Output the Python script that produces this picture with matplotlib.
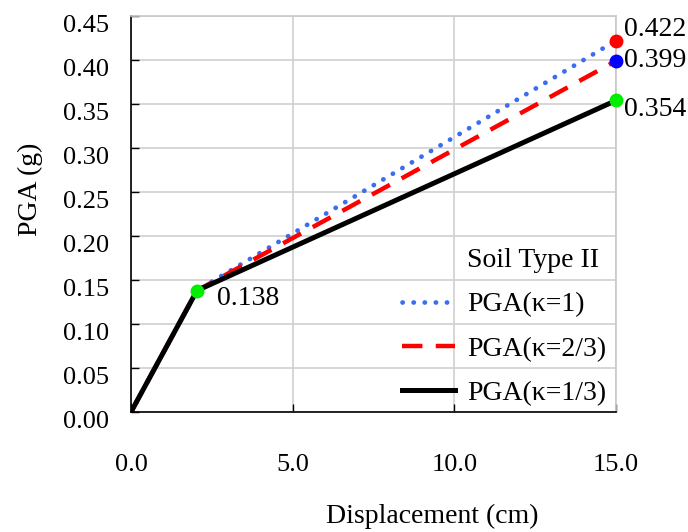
import matplotlib
matplotlib.use("Agg")
import matplotlib.pyplot as plt
import matplotlib.transforms as mtransforms
from matplotlib.lines import Line2D

plt.rcParams['font.family'] = ['Liberation Serif', 'DejaVu Serif']

# Data
displacement = [0.0, 2.04, 15.0]
pga_k1 = [0.0, 0.138, 0.422]
pga_k23 = [0.0, 0.138, 0.399]
pga_k13 = [0.0, 0.138, 0.354]
series_labels = ["PGA(κ=1)", "PGA(κ=2/3)", "PGA(κ=1/3)"]
legend_title = "Soil Type II"
xticks = [0.0, 5.0, 10.0, 15.0]
yticks = [0.00, 0.05, 0.10, 0.15, 0.20, 0.25, 0.30, 0.35, 0.40, 0.45]

W, H = 688, 532
fig = plt.figure(figsize=(W/100, H/100), dpi=100)
ax = fig.add_axes([131/W, 1 - 412/H, (616-131)/W, (412-16)/H])

blue = '#3c6cf0'
l1, = ax.plot(displacement, pga_k1, linestyle=(0, (0.05, 2.3)), color=blue, lw=3.4, zorder=3,
              dash_capstyle='round', label=series_labels[0])
l2, = ax.plot(displacement, pga_k23, linestyle=(0, (4.6, 3.0)), color='#ff0000', lw=3.2, zorder=4,
              dash_capstyle='butt', label=series_labels[1])
l3, = ax.plot(displacement, pga_k13, linestyle='-', color='black', lw=3.6, zorder=5,
              label=series_labels[2])

# markers
ax.plot([displacement[1]], [pga_k13[1]], 'o', color='#00ee00', ms=9, zorder=6, clip_on=False)
ax.plot([displacement[2]], [pga_k1[2]], 'o', color='#ff0000', ms=9, zorder=6, clip_on=False)
ax.plot([displacement[2]], [pga_k23[2]], 'o', color='#0000ff', ms=9, zorder=6, clip_on=False)
ax.plot([displacement[2]], [pga_k13[2]], 'o', color='#00ee00', ms=9, zorder=6, clip_on=False)

fs = 19     # tick labels
fs2 = 20    # other texts
ax.annotate(f"{pga_k13[1]:.3f}", (displacement[1], pga_k13[1]), xytext=(14.4, -5.8),
            textcoords='offset points', fontsize=fs2, va='center', ha='left')
ax.annotate(f"{pga_k1[2]:.3f}", (displacement[2], pga_k1[2]), xytext=(5.8, 8),
            textcoords='offset points', fontsize=fs2, va='center', ha='left', annotation_clip=False)
ax.annotate(f"{pga_k23[2]:.3f}", (displacement[2], pga_k23[2]), xytext=(5.8, 0),
            textcoords='offset points', fontsize=fs2, va='center', ha='left', annotation_clip=False)
ax.annotate(f"{pga_k13[2]:.3f}", (displacement[2], pga_k13[2]), xytext=(5.8, -6.5),
            textcoords='offset points', fontsize=fs2, va='center', ha='left', annotation_clip=False)

ax.set_xlim(0, 15)
ax.set_ylim(0, 0.45)
ax.set_xticks(xticks)
ax.set_yticks(yticks)
ax.set_xticklabels([f"{v:.1f}" for v in xticks], fontsize=fs)
ax.set_yticklabels([f"{v:.2f}" for v in yticks], fontsize=fs)
ax.tick_params(axis='x', direction='in', pad=30, length=6, width=1)
ax.tick_params(axis='y', direction='in', pad=16, length=6, width=1)

# y tick labels sit slightly below their ticks in the reference
offset = mtransforms.ScaledTranslation(0, -7/100, fig.dpi_scale_trans)
for t in ax.yaxis.get_major_ticks():
    t.label1.set_transform(t.label1.get_transform() + offset)

ax.grid(True, color='#d0d0d0', lw=1.2)
ax.set_axisbelow(True)
for s in ['top', 'right']:
    ax.spines[s].set_color('#c8c8c8')
    ax.spines[s].set_linewidth(1.2)
for s in ['left', 'bottom']:
    ax.spines[s].set_color('black')
    ax.spines[s].set_linewidth(1.2)

fig.text(432/W, 1 - 523/H, "Displacement (cm)", fontsize=fs2, ha='center', va='baseline')
fig.text(30/W, 1 - 189/H, "PGA (g)", fontsize=fs2, ha='center', va='center', rotation=90)

blank = Line2D([], [], color='none')
leg = ax.legend([blank, l1, l2, l3], [legend_title] + series_labels,
                loc='lower left', frameon=False, fontsize=fs2,
                handlelength=1.9, handletextpad=0.45, labelspacing=0.68,
                borderaxespad=0.0, borderpad=0.0,
                bbox_to_anchor=(402/W, 1 - 406/H), bbox_transform=fig.transFigure)

fig.savefig("out.png", dpi=100)
